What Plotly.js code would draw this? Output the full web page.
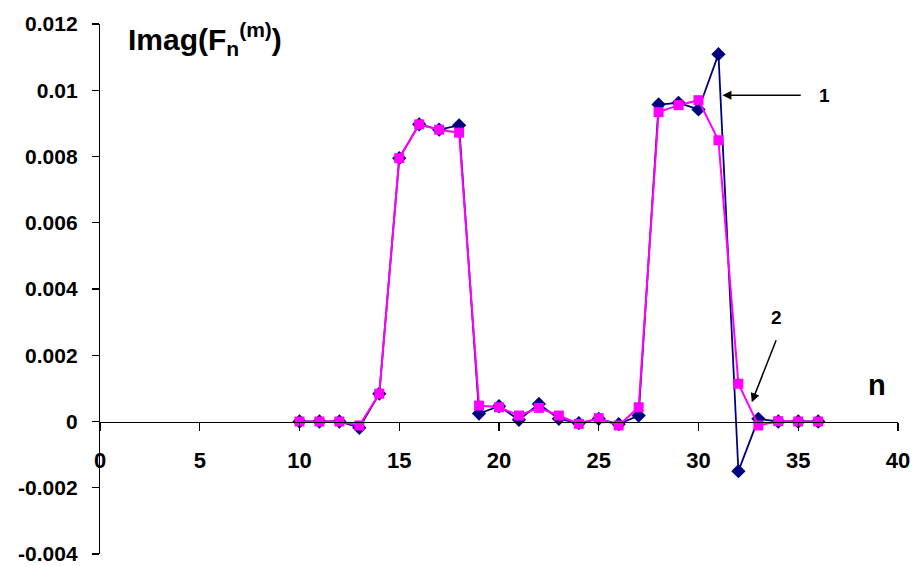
<!DOCTYPE html>
<html>
<head>
<meta charset="utf-8">
<script src="https://cdn.plot.ly/plotly-3.0.1.min.js"></script>
<style>html,body{margin:0;padding:0;background:#fff;}#chart{width:915px;height:566px;}</style>
</head>
<body>
<div id="chart"></div>
<script>
const n = [10,11,12,13,14,15,16,17,18,19,20,21,22,23,24,25,26,27,28,29,30,31,32,33,34,35,36];
const series1 = [0,0,0,-0.00019,0.00084,0.00795,0.00897,0.00881,0.00894,0.00024,0.00046,0.00005,0.00053,0.00008,-0.00005,0.00008,-0.00008,0.00018,0.00957,0.00962,0.00942,0.01109,-0.00150,0.00008,0,0,0];
const series2 = [0,0,0,-0.00012,0.00084,0.00795,0.00897,0.00881,0.00872,0.00048,0.00043,0.00018,0.00041,0.00018,-0.00007,0.00010,-0.00012,0.00043,0.00934,0.00955,0.00970,0.00849,0.00114,-0.00012,0.00001,0,0];
const yTickVals = [-0.004,-0.002,0,0.002,0.004,0.006,0.008,0.01,0.012];
const yTickText = ['-0.004','-0.002','0','0.002','0.004','0.006','0.008','0.01','0.012'];
const xTickVals = [0,5,10,15,20,25,30,35,40];
const xTickText = ['0','5','10','15','20','25','30','35','40'];

const font = 'Arial, "Liberation Sans", sans-serif';

const traces = [
  {x:n, y:series1, type:'scatter', mode:'lines+markers', name:'1',
   line:{color:'#000080', width:1.8},
   marker:{symbol:'diamond', size:11, color:'#000080'}},
  {x:n, y:series2, type:'scatter', mode:'lines+markers', name:'2',
   line:{color:'#FF00FF', width:2},
   marker:{symbol:'square', size:10, color:'#FF00FF'}}
];

const layout = {
  width:915, height:566,
  margin:{l:100, r:17, t:24, b:12},
  paper_bgcolor:'#fff', plot_bgcolor:'#fff',
  showlegend:false,
  xaxis:{range:[0,40], anchor:'free', position:0.25,
    showline:true, linecolor:'#000', linewidth:1.2,
    showgrid:false, zeroline:false,
    tickvals:xTickVals, ticktext:xTickText,
    ticks:'outside', ticklen:8, tickcolor:'#000', tickwidth:1.2,
    ticklabelstandoff:11,
    tickfont:{family:font, size:22, color:'#000', weight:'bold'}},
  yaxis:{range:[-0.004,0.012],
    showline:true, linecolor:'#000', linewidth:1.2,
    showgrid:false, zeroline:false,
    tickvals:yTickVals, ticktext:yTickText,
    ticks:'outside', ticklen:7, tickcolor:'#000', tickwidth:1.2,
    ticklabelstandoff:10,
    tickfont:{family:font, size:21, color:'#000', weight:'bold'}},
  annotations:[
    {xref:'paper', yref:'paper', x:0.033, y:0.972, xanchor:'left', yanchor:'middle',
     text:'Imag(F<sub>n</sub><sup>(m)</sup>)', showarrow:false,
     font:{family:font, size:30, color:'#000', weight:'bold'}},
    {xref:'x', yref:'y', x:38.95, y:0.0011, text:'n', showarrow:false,
     font:{family:font, size:29, color:'#000', weight:'bold'}},
    {xref:'x', yref:'y', x:36.3, y:0.00985, text:'1', showarrow:false,
     font:{family:font, size:19, color:'#000', weight:'bold'}},
    {xref:'x', yref:'y', x:33.9, y:0.00315, text:'2', showarrow:false,
     font:{family:font, size:19, color:'#000', weight:'bold'}},
    {xref:'x', yref:'y', x:31.2, y:0.00985, axref:'x', ayref:'y', ax:35.2, ay:0.00985,
     text:'', showarrow:true, arrowhead:2, arrowsize:1.2, arrowwidth:1.5, arrowcolor:'#000'},
    {xref:'x', yref:'y', x:32.67, y:0.00058, axref:'x', ayref:'y', ax:33.92, ay:0.0025,
     text:'', showarrow:true, arrowhead:2, arrowsize:1.2, arrowwidth:1.5, arrowcolor:'#000'}
  ]
};

Plotly.newPlot('chart', traces, layout, {displayModeBar:false, staticPlot:true});
</script>
</body>
</html>
